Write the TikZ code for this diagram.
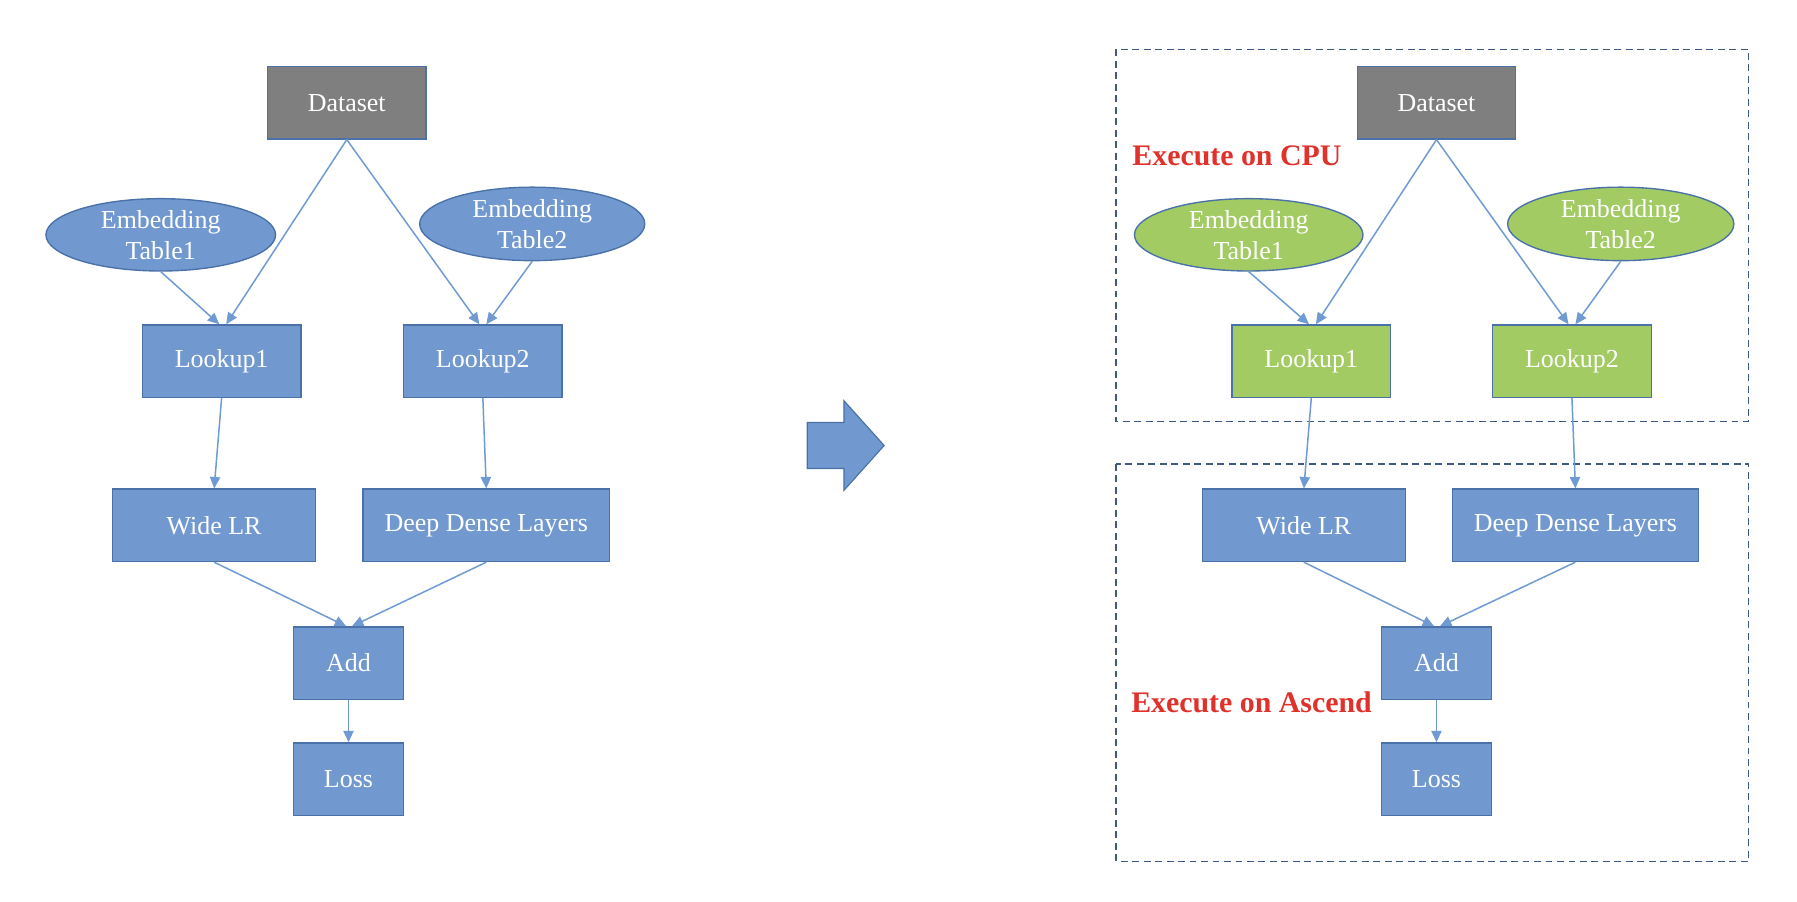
\documentclass[tikz,border=0pt]{standalone}
\usepackage{fontspec}
\setmainfont{Liberation Serif}
\usetikzlibrary{shapes.geometric,arrows.meta}
\definecolor{nodeblue}{HTML}{7299CF}
\definecolor{edgeblue}{HTML}{4A72A8}
\definecolor{linkblue}{HTML}{6F9AD3}
\definecolor{dsgray}{HTML}{7F7F7F}
\definecolor{embgreen}{HTML}{A3CB64}
\definecolor{dashc}{HTML}{3F5A80}
\definecolor{labred}{HTML}{E0312B}
\tikzset{
  box/.style={rectangle, draw=edgeblue, fill=nodeblue, line width=1.2pt, inner sep=0pt,
    minimum height=63pt, text=white, font=\fontsize{22.6}{28}\selectfont},
  dsbox/.style={box, fill=dsgray, minimum width=138pt},
  emb/.style={ellipse, draw=edgeblue, fill=nodeblue, line width=1.2pt, inner sep=0pt,
    text=white, align=center, font=\fontsize{22.6}{27}\selectfont},
  gbox/.style={box, fill=embgreen},
  gemb/.style={emb, fill=embgreen},
  conn/.style={draw=linkblue, line width=1.3pt, -{Triangle[length=10pt,width=9pt]}},
  zone/.style={draw=dashc, line width=1.2pt, dash pattern=on 6pt off 4pt},
  lab/.style={text=labred, font=\fontsize{26}{30}\selectfont\bfseries, anchor=west, inner sep=0pt},
  bigarrow/.style={fill=nodeblue, draw=edgeblue, line width=1pt}
}
\begin{document}
\begin{tikzpicture}[x=1pt,y=-1pt]
\useasboundingbox (0,0) rectangle (1565,785);
% ---------------- left diagram ----------------
\node[dsbox] (ds) at (302,89.5) {Dataset};
\node[emb, minimum width=200pt, minimum height=63pt] (e1) at (140,204.5) {Embedding\\Table1};
\node[emb, minimum width=196pt, minimum height=64pt] (e2) at (463.5,195) {Embedding\\Table2};
\node[box, minimum width=138pt] (l1) at (193,314.5) {Lookup1};
\node[box, minimum width=138pt] (l2) at (420.5,314.5) {Lookup2};
\node[box, minimum width=177pt] (w) at (186.5,457.5) {Wide LR};
\node[box, minimum width=215pt] (d) at (423.5,457.5) {Deep Dense Layers};
\node[box, minimum width=96pt] (add) at (303.5,577.5) {Add};
\node[box, minimum width=96pt] (loss) at (303.5,678.5) {Loss};
\draw[conn] (ds.south) -- ([xshift=4pt]l1.north);
\draw[conn] (e1.south) -- ([xshift=-2pt]l1.north);
\draw[conn] (ds.south) -- ([xshift=-3pt]l2.north);
\draw[conn] (e2.south) -- ([xshift=3pt]l2.north);
\draw[conn] (l1.south) -- (w.north);
\draw[conn] (l2.south) -- (d.north);
\draw[conn] (w.south) -- ([xshift=-2pt]add.north);
\draw[conn] (d.south) -- ([xshift=3pt]add.north);
\draw[conn] (add.south) -- (loss.north);
% ---------------- big arrow ----------------
\draw[bigarrow] (703,368) -- (735,368) -- (735,349) -- (770,388) -- (735,427) -- (735,408) -- (703,408) -- cycle;
% ---------------- right diagram ----------------
\draw[zone] (972,43) rectangle (1523,367);
\draw[zone] (972,404) rectangle (1523,750);
\node[lab] (cpu) at (986,136) {Execute on CPU};
\node[lab] (asc) at (985,612) {Execute on Ascend};
\node[dsbox] (rds) at (1251,89.5) {Dataset};
\node[gemb, minimum width=199pt, minimum height=63pt] (re1) at (1087.5,204.5) {Embedding\\Table1};
\node[gemb, minimum width=197pt, minimum height=64pt] (re2) at (1411.5,195) {Embedding\\Table2};
\node[gbox, minimum width=138pt] (rl1) at (1142,314.5) {Lookup1};
\node[gbox, minimum width=138pt] (rl2) at (1369,314.5) {Lookup2};
\node[box, minimum width=177pt] (rw) at (1135.5,457.5) {Wide LR};
\node[box, minimum width=214pt] (rd) at (1372,457.5) {Deep Dense Layers};
\node[box, minimum width=96pt] (radd) at (1251,577.5) {Add};
\node[box, minimum width=96pt] (rloss) at (1251,678.5) {Loss};
\draw[conn] (rds.south) -- ([xshift=4pt]rl1.north);
\draw[conn] (re1.south) -- ([xshift=-2pt]rl1.north);
\draw[conn] (rds.south) -- ([xshift=-3pt]rl2.north);
\draw[conn] (re2.south) -- ([xshift=3pt]rl2.north);
\draw[conn] (rl1.south) -- (rw.north);
\draw[conn] (rl2.south) -- (rd.north);
\draw[conn] (rw.south) -- ([xshift=-2pt]radd.north);
\draw[conn] (rd.south) -- ([xshift=3pt]radd.north);
\draw[conn] (radd.south) -- (rloss.north);
\end{tikzpicture}
\end{document}
